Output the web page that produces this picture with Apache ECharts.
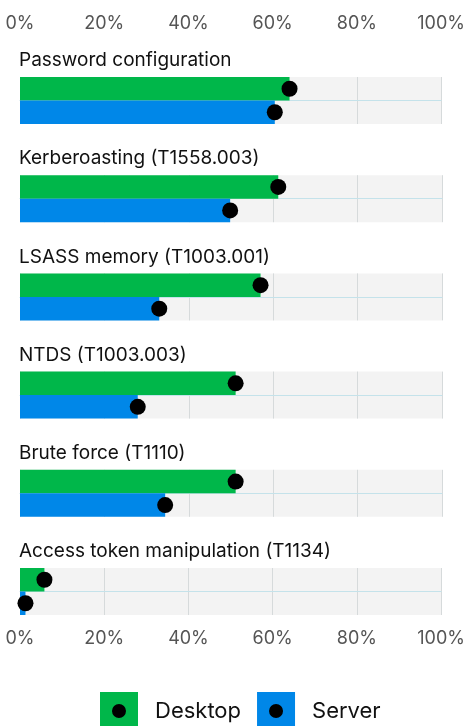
<!DOCTYPE html>
<html>
<head>
<meta charset="utf-8">
<script src="https://cdn.jsdelivr.net/npm/echarts@6/dist/echarts.min.js"></script>
<style>html,body{margin:0;padding:0;background:#fff;}#c{width:468px;height:726px;}</style>
</head>
<body>
<div id="c"></div>
<script>
const categories = ['Password configuration', 'Kerberoasting (T1558.003)', 'LSASS memory (T1003.001)', 'NTDS (T1003.003)', 'Brute force (T1110)', 'Access token manipulation (T1134)'];
const seriesNames = ['Desktop', 'Server'];
const desktop = [64, 61.2, 57, 51.1, 51.1, 5.8];
const server = [60.5, 49.8, 33, 27.9, 34.4, 1.3];
const tickLabels = ['0%', '20%', '40%', '60%', '80%', '100%'];

const FONT = 'Inter';
const colors = ['#00b74a', '#0087e8'];
const gridLeft = 20, gridWidth = 422, firstTop = 77, panelH = 47, step = 98.2;

const chart = echarts.init(document.getElementById('c'), null, {renderer: 'canvas'});
const grids = [], xAxes = [], yAxes = [], series = [], titles = [];

categories.forEach((cat, i) => {
  const top = firstTop + i * step;
  grids.push({left: gridLeft, width: gridWidth, top: top, height: panelH, show: true,
    backgroundColor: '#f3f3f3', borderWidth: 0, containLabel: false});
  titles.push({text: cat, left: gridLeft - 1, top: top - 26, padding: 0,
    textStyle: {fontFamily: FONT, fontSize: 19, fontWeight: 400, color: '#111'}});
  xAxes.push({gridIndex: i, type: 'value', min: 0, max: 100, interval: 20, position: 'bottom',
    offset: -panelH / 2,
    axisLine: {show: true, lineStyle: {color: '#c4e2ea', width: 1}},
    axisTick: {show: false}, axisLabel: {show: false},
    splitLine: {show: true, lineStyle: {color: '#d6dadb', width: 1}}});
  yAxes.push({gridIndex: i, type: 'category', data: seriesNames, inverse: true,
    axisLine: {show: false}, axisTick: {show: false}, axisLabel: {show: false}, splitLine: {show: false}});
  series.push({name: 'Desktop', type: 'bar', xAxisIndex: i, yAxisIndex: i, stack: 's' + i,
    barWidth: '100%', itemStyle: {color: colors[0]}, data: [desktop[i], '-'], z: 2, silent: true});
  series.push({name: 'Server', type: 'bar', xAxisIndex: i, yAxisIndex: i, stack: 's' + i,
    barWidth: '100%', itemStyle: {color: colors[1]}, data: ['-', server[i]], z: 2, silent: true});
  series.push({type: 'scatter', xAxisIndex: i, yAxisIndex: i, symbolSize: 16,
    itemStyle: {color: '#000', opacity: 1}, data: [[desktop[i], 0], [server[i], 1]], z: 5, silent: true, clip: false});
});

// tick label axes (top of first panel, bottom of last panel)
const tickAxis = (gi, pos, off) => ({gridIndex: gi, type: 'value', min: 0, max: 100, interval: 20,
  position: pos, offset: off,
  axisLine: {show: false}, axisTick: {show: false}, splitLine: {show: false},
  axisLabel: {show: true, fontFamily: FONT, fontSize: 18, color: '#555',
    formatter: v => tickLabels[Math.round(v / 20)]}});
xAxes.push(tickAxis(0, 'top', 36));
xAxes.push(tickAxis(5, 'bottom', 7));

const path = 'path://M0,0h0.01v0.01h-0.01z M38,38h0.01v0.01h-0.01z M12,19a7,7 0 1,0 14,0a7,7 0 1,0 -14,0z';
const legendBase = {orient: 'horizontal', left: 95, top: 687, itemWidth: 38, itemHeight: 38, itemGap: 16,
  textStyle: {fontFamily: FONT, fontSize: 22, color: '#111', padding: [0, 0, 0, 12]}};

chart.setOption({
  animation: false,
  title: titles,
  grid: grids,
  xAxis: xAxes,
  yAxis: yAxes,
  legend: [
    Object.assign({}, legendBase, {icon: 'rect', data: seriesNames, selectedMode: false}),
    Object.assign({}, legendBase, {selectedMode: false,
      data: seriesNames.map(n => ({name: n, icon: path, itemStyle: {color: '#000'}, textStyle: {color: 'rgba(0,0,0,0)'}}))})
  ],
  series: series
});
</script>
</body>
</html>
